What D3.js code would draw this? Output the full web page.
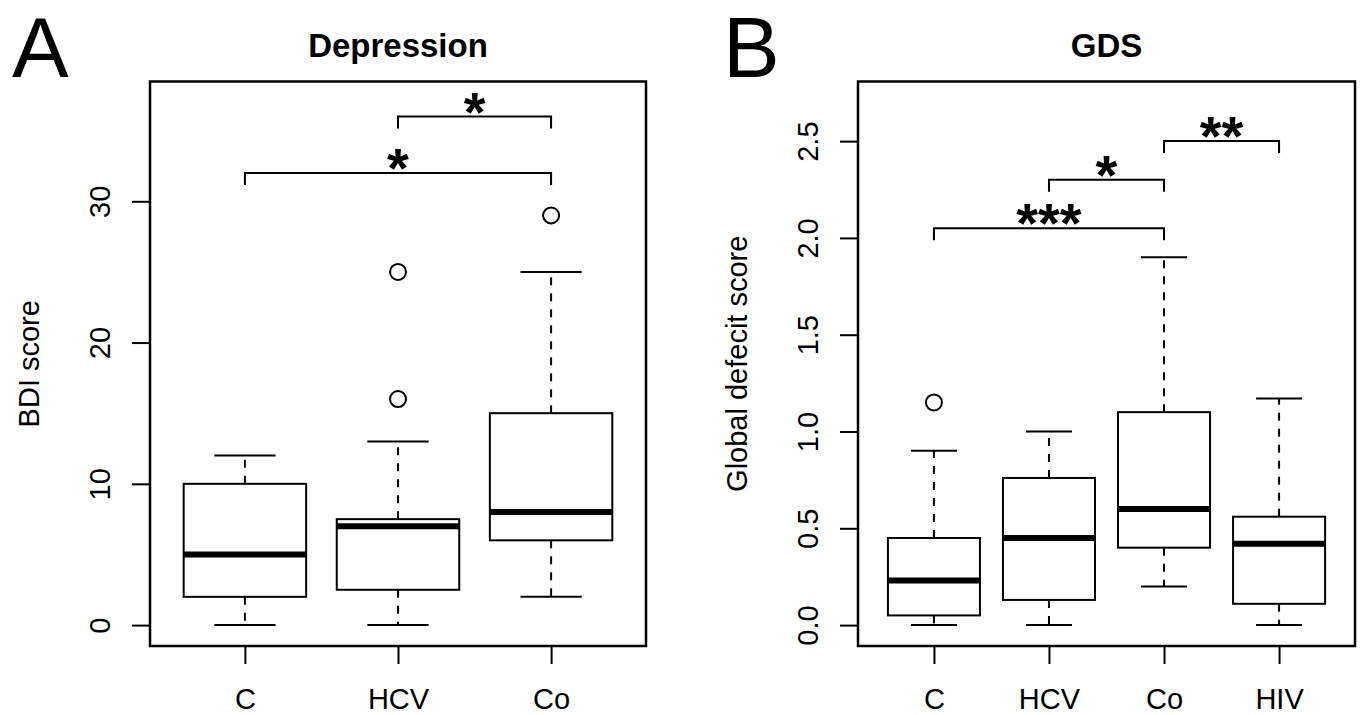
<!DOCTYPE html>
<html><head><meta charset="utf-8">
<script src="https://cdn.jsdelivr.net/npm/d3@7"></script>
<style>
body{margin:0;background:#fff}
text{font-family:"Liberation Sans",Arial,Helvetica,sans-serif;fill:#000}
</style>
</head><body>
<svg id="chart" width="1361" height="715"></svg>
<script>
// ---- Panel A data (Depression / BDI score) ----
const catsA = ["C", "HCV", "Co"];
const lowA = [0, 0, 2];
const q1A = [2, 2.5, 6];
const medA = [5, 7, 8];
const q3A = [10, 7.5, 15];
const highA = [12, 13, 25];
const outGroupA = ["HCV", "HCV", "Co"];
const outValA = [25, 16, 29];
const brFromA = ["C", "HCV"];
const brToA = ["Co", "Co"];
const brLevelA = [32, 36];
const brLabelA = ["*", "*"];
const yTicksA = [0, 10, 20, 30];
const yLimA = [0, 37];

// ---- Panel B data (GDS / Global defecit score) ----
const catsB = ["C", "HCV", "Co", "HIV"];
const lowB = [0, 0, 0.2, 0];
const q1B = [0.05, 0.13, 0.4, 0.11];
const medB = [0.23, 0.45, 0.6, 0.42];
const q3B = [0.45, 0.76, 1.1, 0.56];
const highB = [0.9, 1.0, 1.9, 1.17];
const outGroupB = ["C"];
const outValB = [1.15];
const brFromB = ["C", "HCV", "Co"];
const brToB = ["Co", "Co", "HIV"];
const brLevelB = [2.05, 2.3, 2.5];
const brLabelB = ["***", "*", "**"];
const yTicksB = [0, 0.5, 1.0, 1.5, 2.0, 2.5];
const yLimB = [0, 2.7];

const svg = d3.select("#chart");
svg.append("rect").attr("width", 1361).attr("height", 715).attr("fill", "#fff");

const TOP = 81.5, BOTTOM = 646;
const AX_FONT = 29;

function drawPanel(p) {
  const n = p.cats.length;
  const g = svg.append("g");
  const x = d3.scaleLinear()
    .domain([0.5 - 0.04 * n, n + 0.5 + 0.04 * n])
    .range([p.left, p.right]);
  const ext = 0.04 * (p.yLim[1] - p.yLim[0]);
  const y = d3.scaleLinear()
    .domain([p.yLim[0] - ext, p.yLim[1] + ext])
    .range([BOTTOM, TOP]);
  const pos = c => p.cats.indexOf(c) + 1;
  const idx = d3.range(n);

  // whiskers (dashed)
  g.selectAll(".wh-up").data(idx).join("line")
    .attr("x1", i => x(i + 1)).attr("x2", i => x(i + 1))
    .attr("y1", i => y(p.q3[i])).attr("y2", i => y(p.high[i]))
    .attr("stroke", "#000").attr("stroke-width", 2).attr("stroke-dasharray", "8,8");
  g.selectAll(".wh-lo").data(idx).join("line")
    .attr("x1", i => x(i + 1)).attr("x2", i => x(i + 1))
    .attr("y1", i => y(p.q1[i])).attr("y2", i => y(p.low[i]))
    .attr("stroke", "#000").attr("stroke-width", 2).attr("stroke-dasharray", "8,8");
  // caps
  g.selectAll(".cap-up").data(idx).join("line")
    .attr("x1", i => x(i + 0.8)).attr("x2", i => x(i + 1.2))
    .attr("y1", i => y(p.high[i])).attr("y2", i => y(p.high[i]))
    .attr("stroke", "#000").attr("stroke-width", 2);
  g.selectAll(".cap-lo").data(idx).join("line")
    .attr("x1", i => x(i + 0.8)).attr("x2", i => x(i + 1.2))
    .attr("y1", i => y(p.low[i])).attr("y2", i => y(p.low[i]))
    .attr("stroke", "#000").attr("stroke-width", 2);
  // boxes
  g.selectAll(".box").data(idx).join("rect")
    .attr("x", i => x(i + 0.6)).attr("width", i => x(i + 1.4) - x(i + 0.6))
    .attr("y", i => y(p.q3[i])).attr("height", i => y(p.q1[i]) - y(p.q3[i]))
    .attr("fill", "#fff").attr("stroke", "#000").attr("stroke-width", 2);
  // medians
  g.selectAll(".med").data(idx).join("line")
    .attr("x1", i => x(i + 0.6)).attr("x2", i => x(i + 1.4))
    .attr("y1", i => y(p.med[i])).attr("y2", i => y(p.med[i]))
    .attr("stroke", "#000").attr("stroke-width", 6);
  // outliers
  g.selectAll(".out").data(p.outVal).join("circle")
    .attr("cx", (d, i) => x(pos(p.outGroup[i])))
    .attr("cy", d => y(d))
    .attr("r", 8).attr("fill", "none").attr("stroke", "#000").attr("stroke-width", 2);

  // significance brackets
  const tick = 12;
  g.selectAll(".br").data(p.brLevel).join("path")
    .attr("d", (d, i) => {
      const x1 = x(pos(p.brFrom[i])), x2 = x(pos(p.brTo[i])), yy = y(d);
      return `M${x1},${yy + tick}V${yy}H${x2}V${yy + tick}`;
    })
    .attr("fill", "none").attr("stroke", "#000").attr("stroke-width", 2);
  g.selectAll(".star").data(p.brLevel).join("text")
    .attr("x", (d, i) => (x(pos(p.brFrom[i])) + x(pos(p.brTo[i]))) / 2)
    .attr("y", d => y(d) + 14)
    .attr("text-anchor", "middle")
    .attr("font-size", 56).attr("font-weight", "bold")
    .text((d, i) => p.brLabel[i]);

  // axes
  const xa = g.append("g").attr("transform", `translate(0,${BOTTOM})`)
    .call(d3.axisBottom(x).tickValues(idx.map(i => i + 1))
      .tickFormat(v => p.cats[v - 1]).tickSize(18).tickSizeOuter(0));
  xa.select(".domain").remove();
  xa.selectAll(".tick line").attr("stroke", "#000").attr("stroke-width", 2);
  xa.selectAll(".tick text").attr("y", 63).attr("dy", 0)
    .attr("font-size", AX_FONT).attr("font-family", null).attr("fill", "#000");

  const ya = g.append("g").attr("transform", `translate(${p.left},0)`)
    .call(d3.axisLeft(y).tickValues(p.yTicks).tickFormat(p.fmt).tickSize(18).tickSizeOuter(0));
  ya.select(".domain").remove();
  ya.selectAll(".tick line").attr("stroke", "#000").attr("stroke-width", 2);
  ya.selectAll(".tick text")
    .attr("transform", "rotate(-90)")
    .attr("x", 0).attr("y", -40).attr("dy", 0)
    .attr("text-anchor", "middle")
    .attr("font-size", AX_FONT).attr("font-family", null).attr("fill", "#000");

  // frame
  g.append("rect").attr("x", p.left).attr("y", TOP)
    .attr("width", p.right - p.left).attr("height", BOTTOM - TOP)
    .attr("fill", "none").attr("stroke", "#000").attr("stroke-width", 2.5);

  // axis title
  g.append("text")
    .attr("transform", `translate(${p.left - 111},${(TOP + BOTTOM) / 2}) rotate(-90)`)
    .attr("text-anchor", "middle").attr("font-size", AX_FONT)
    .text(p.ylab);
  // main title
  g.append("text").attr("x", (p.left + p.right) / 2).attr("y", 57)
    .attr("text-anchor", "middle").attr("font-size", 33).attr("font-weight", "bold")
    .text(p.title);
  // panel letter
  g.append("text").attr("x", p.letterX).attr("y", 77)
    .attr("font-size", 85).text(p.letter);
}

drawPanel({
  cats: catsA, low: lowA, q1: q1A, med: medA, q3: q3A, high: highA,
  outGroup: outGroupA, outVal: outValA,
  brFrom: brFromA, brTo: brToA, brLevel: brLevelA, brLabel: brLabelA,
  yTicks: yTicksA, yLim: yLimA, fmt: d3.format("d"),
  title: "Depression", ylab: "BDI score", letter: "A",
  left: 150, right: 646, letterX: 12
});
drawPanel({
  cats: catsB, low: lowB, q1: q1B, med: medB, q3: q3B, high: highB,
  outGroup: outGroupB, outVal: outValB,
  brFrom: brFromB, brTo: brToB, brLevel: brLevelB, brLabel: brLabelB,
  yTicks: yTicksB, yLim: yLimB, fmt: d3.format(".1f"),
  title: "GDS", ylab: "Global defecit score", letter: "B",
  left: 858, right: 1355, letterX: 723
});
</script>
</body></html>
